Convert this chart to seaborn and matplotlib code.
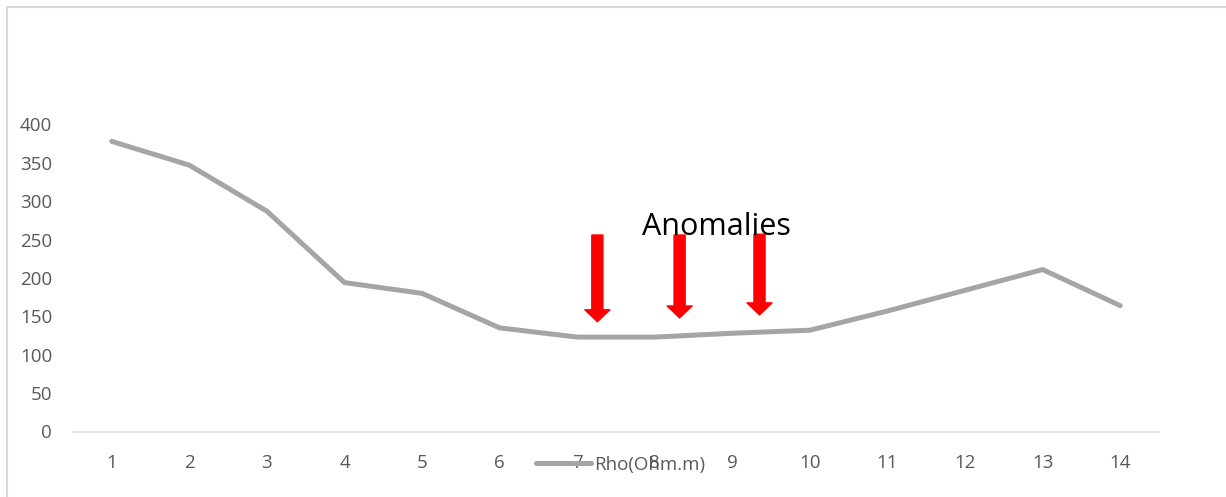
import matplotlib
matplotlib.use("Agg")
import matplotlib.pyplot as plt
from matplotlib.patches import FancyArrowPatch, Rectangle
import seaborn as sns
import pandas as pd

# Electrode stations and measured apparent resistivity
stations = [1, 2, 3, 4, 5, 6, 7, 8, 9, 10, 11, 12, 13, 14]
rho = [378, 347, 287, 194, 180, 135, 123, 123, 128, 132, 157, 184, 211, 164]
y_ticks = [0, 50, 100, 150, 200, 250, 300, 350, 400]
series_name = "Rho(Ohm.m)"

# Low-resistivity anomaly markers (station position, arrow top, arrow tip)
arrow_x = [7.26, 8.32, 9.35]
arrow_top = [256, 256, 257]
arrow_tip = [143, 148, 152]
anomaly_label = "Anomalies"
anomaly_xy = (7.84, 256)

sns.set_theme(style="white")
plt.rcParams["font.family"] = ["Open Sans", "DejaVu Sans"]

df = pd.DataFrame({"Station": stations, series_name: rho})

fig = plt.figure(figsize=(12.26, 4.97), dpi=100)
ax = fig.add_axes([73 / 1226, 1 - 431.5 / 497, (1159 - 73) / 1226, (431.5 - 124.5) / 497])

sns.lineplot(data=df, x="Station", y=series_name, ax=ax, color="#A5A5A5",
             linewidth=3.6, label=series_name, solid_capstyle="round")

ax.set_xlim(0.5, 14.5)
ax.set_ylim(0, 400)
ax.set_xticks(stations)
ax.set_xticklabels([str(s) for s in stations])
ax.set_yticks(y_ticks)
ax.set_yticklabels([str(v) for v in y_ticks])
ax.set_xlabel("")
ax.set_ylabel("")
ax.tick_params(axis="both", length=0, labelsize=13.5, labelcolor="#595959")
ax.tick_params(axis="y", pad=15)
ax.tick_params(axis="x", pad=16)
for side in ("left", "right", "top"):
    ax.spines[side].set_visible(False)
ax.spines["bottom"].set_color("#D9D9D9")
ax.spines["bottom"].set_linewidth(1.1)
ax.grid(False)

# Red arrows pointing down at the anomalous stations
for x, top, tip in zip(arrow_x, arrow_top, arrow_tip):
    arr = FancyArrowPatch((x, top), (x, tip),
                          arrowstyle="simple,head_length=8.6,head_width=18,tail_width=8",
                          color="#FF0000", shrinkA=0, shrinkB=0, mutation_scale=1,
                          clip_on=False, zorder=4)
    ax.add_patch(arr)

ax.text(anomaly_xy[0], anomaly_xy[1], anomaly_label, fontsize=22, color="black",
        ha="left", va="baseline", zorder=5)

leg = ax.legend(loc="center", bbox_to_anchor=(621 / 1226, 1 - 465 / 497),
                bbox_transform=fig.transFigure, frameon=False, fontsize=13.5,
                handlelength=2.9, handletextpad=0.2, borderpad=0)
for t in leg.get_texts():
    t.set_color("#595959")

# Chart area border
fig.patches.append(Rectangle((7 / 1226, -0.1), 1.2, 1 - 7 / 497 + 0.1,
                             transform=fig.transFigure, fill=False,
                             edgecolor="#D9D9D9", linewidth=1.5))

fig.savefig("out.png", dpi=100)
